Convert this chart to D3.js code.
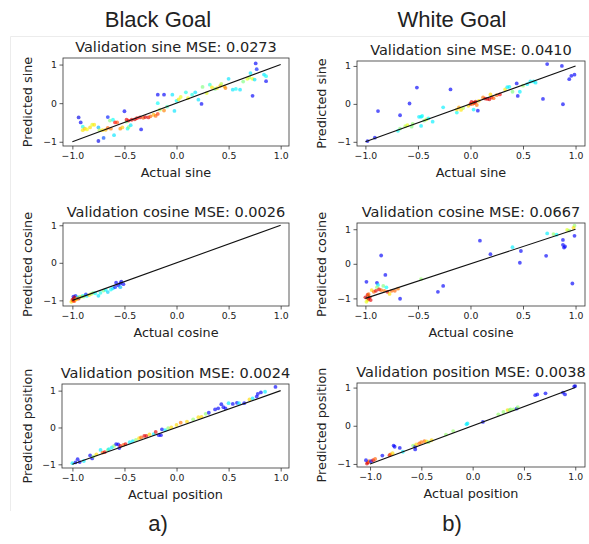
<!DOCTYPE html>
<html><head><meta charset="utf-8">
<script src="https://cdn.jsdelivr.net/npm/d3@7"></script>
<style>body{margin:0;background:#fff}svg{display:block}</style>
</head><body>
<svg id="fig" width="589" height="544"></svg>
<script>
// Each point: [actual, predicted, colour value for the jet map]
const blackSine = [
 [-0.94,-0.37,0.1],[-0.92,-0.50,0.12],[-0.90,-0.61,0.4],[-0.90,-0.70,0.65],[-0.88,-0.66,0.68],[-0.86,-0.68,0.62],
 [-0.83,-0.63,0.66],[-0.81,-0.56,0.6],[-0.79,-0.56,0.65],[-0.75,-0.98,0.1],[-0.70,-0.90,0.2],[-0.75,-0.63,0.3],
 [-0.74,-0.70,0.55],[-0.71,-0.70,0.65],[-0.68,-0.69,0.7],[-0.66,-0.64,0.78],[-0.63,-0.66,0.75],[-0.66,-0.36,0.15],
 [-0.64,-0.45,0.5],[-0.61,-0.43,0.38],[-0.60,-0.83,0.35],[-0.59,-0.50,0.88],[-0.57,-0.50,0.8],[-0.54,-0.66,0.75],
 [-0.52,-0.63,0.68],[-0.50,-0.21,0.12],[-0.48,-0.48,0.5],[-0.47,-0.66,0.38],[-0.46,-0.62,0.5],[-0.44,-0.57,0.35],
 [-0.48,-0.43,0.9],[-0.46,-0.45,0.88],[-0.43,-0.43,0.9],[-0.40,-0.42,0.92],[-0.38,-0.39,0.88],[-0.35,-0.37,0.9],
 [-0.34,-0.68,0.12],[-0.32,-0.38,0.8],[-0.30,-0.36,0.92],[-0.27,-0.37,0.9],[-0.25,-0.34,0.78],[-0.22,-0.30,0.7],
 [-0.20,-0.33,0.77],[-0.18,-0.28,0.82],[-0.16,-0.17,0.55],[-0.18,0.22,0.12],[-0.12,0.22,0.12],[-0.12,-0.19,0.75],
 [-0.18,0.0,0.38],[-0.09,-0.09,0.45],[-0.04,0.22,0.35],[-0.02,-0.20,0.35],[0.00,0.06,0.38],[0.02,0.10,0.65],
 [0.04,0.16,0.6],[0.09,0.28,0.4],[0.11,0.13,0.62],[0.15,0.22,0.4],[0.18,0.28,0.35],[0.21,0.09,0.35],
 [0.24,-0.02,0.12],[0.25,0.42,0.5],[0.29,0.26,0.6],[0.32,0.48,0.42],[0.34,0.41,0.65],[0.37,0.37,0.5],
 [0.39,0.39,0.65],[0.42,0.45,0.7],[0.43,0.50,0.55],[0.46,0.43,0.68],[0.47,0.39,0.75],[0.50,0.63,0.35],
 [0.54,0.35,0.35],[0.57,0.37,0.38],[0.61,0.35,0.35],[0.64,0.56,0.5],[0.68,0.63,0.6],[0.70,0.66,0.55],
 [0.73,0.63,0.62],[0.75,0.61,0.35],[0.71,0.78,0.35],[0.76,1.03,0.12],[0.77,0.88,0.15],[0.73,0.19,0.12],
 [0.84,0.74,0.35],[0.86,0.70,0.38],[0.86,0.57,0.12]
];
const whiteSine = [
 [-0.98,-0.98,0.12],[-0.91,-0.89,0.12],[-0.88,-0.19,0.12],[-0.69,-0.71,0.38],[-0.67,-0.65,0.5],[-0.67,-0.30,0.12],
 [-0.62,-0.59,0.55],[-0.60,-0.56,0.6],[-0.58,0.01,0.12],[-0.56,-0.60,0.5],[-0.55,-0.53,0.52],[-0.51,0.43,0.12],
 [-0.49,-0.34,0.36],[-0.47,-0.34,0.36],[-0.46,-0.32,0.38],[-0.47,-0.58,0.36],[-0.44,-0.44,0.5],[-0.42,-0.41,0.58],
 [-0.40,-0.38,0.38],[-0.36,-0.47,0.36],[-0.26,-0.09,0.36],[-0.19,0.38,0.12],[-0.13,-0.23,0.38],[-0.13,-0.15,0.66],
 [-0.11,-0.09,0.72],[-0.09,-0.16,0.65],[-0.07,-0.11,0.55],[-0.02,-0.05,0.66],[0.00,0.00,0.92],[0.01,0.05,0.9],
 [0.03,0.03,0.93],[0.04,0.03,0.9],[0.02,0.00,0.78],[0.05,0.06,0.92],[0.03,-0.15,0.36],[0.07,-0.18,0.12],
 [0.06,-0.03,0.76],[0.08,0.08,0.66],[0.12,0.17,0.76],[0.14,0.14,0.9],[0.16,0.13,0.9],[0.18,0.12,0.92],
 [0.20,0.17,0.88],[0.22,0.15,0.78],[0.19,0.25,0.66],[0.25,0.23,0.78],[0.28,0.25,0.88],[0.33,0.38,0.64],
 [0.35,0.44,0.36],[0.37,0.45,0.36],[0.40,0.32,0.5],[0.44,0.54,0.12],[0.45,0.21,0.12],[0.47,0.32,0.36],
 [0.50,0.48,0.52],[0.54,0.52,0.36],[0.57,0.59,0.36],[0.60,0.59,0.38],[0.62,0.56,0.36],[0.69,0.13,0.12],
 [0.73,1.05,0.12],[0.87,1.00,0.12],[0.88,-0.01,0.12],[0.94,0.65,0.12],[0.96,0.74,0.12],[0.99,0.77,0.12]
];
const blackCosine = [
 [-1.00,-0.99,0.9],[-0.99,-0.96,0.95],[-0.98,-1.02,0.78],[-0.97,-0.97,0.68],[-0.99,-0.90,0.12],[-0.97,-0.88,0.15],
 [-0.95,-0.92,0.35],[-0.94,-0.95,0.9],[-0.93,-0.91,0.5],[-0.91,-0.90,0.65],[-0.90,-0.88,0.38],[-0.89,-0.90,0.52],
 [-0.87,-0.84,0.15],[-0.86,-0.88,0.35],[-0.84,-0.86,0.65],[-0.82,-0.83,0.55],[-0.80,-0.80,0.5],[-0.78,-0.81,0.38],
 [-0.75,-0.88,0.35],[-0.73,-0.80,0.4],[-0.70,-0.74,0.5],[-0.68,-0.72,0.38],[-0.66,-0.78,0.33],[-0.63,-0.71,0.38],
 [-0.61,-0.68,0.35],[-0.59,-0.65,0.15],[-0.58,-0.53,0.12],[-0.56,-0.60,0.12],[-0.54,-0.55,0.12],[-0.53,-0.50,0.1],
 [-0.51,-0.57,0.12],[-0.54,-0.65,0.3],[-0.98,-0.92,0.92],[-0.96,-0.97,0.7],[-1.01,-1.04,0.66],[-0.99,-1.01,0.85]
];
const whiteCosine = [
 [-0.99,-0.52,0.12],[-0.85,0.24,0.12],[-0.81,-0.32,0.12],[-0.89,-0.55,0.12],[-0.88,-0.61,0.36],[-0.89,-0.68,0.52],
 [-0.83,-0.64,0.5],[-0.80,-0.68,0.38],[-0.94,-0.76,0.66],[-0.92,-0.81,0.78],[-0.90,-0.78,0.9],[-0.87,-0.74,0.9],
 [-0.85,-0.76,0.78],[-0.82,-0.78,0.76],[-0.79,-0.81,0.9],[-0.77,-0.87,0.66],[-0.75,-0.78,0.78],[-0.72,-0.78,0.78],
 [-0.69,-0.72,0.76],[-0.67,-1.01,0.12],[-0.97,-0.93,0.52],[-0.98,-1.05,0.66],[-1.00,-0.97,0.92],[-0.97,-1.01,0.92],
 [-0.96,-0.97,0.9],[-0.99,-1.10,0.6],[-0.98,-0.90,0.9],[-0.97,-0.88,0.78],[-0.95,-1.05,0.9],[-0.47,-0.44,0.52],
 [-0.31,-0.81,0.12],[-0.26,-0.64,0.12],[0.09,0.67,0.12],[0.19,0.28,0.12],[0.40,0.48,0.36],[0.48,0.37,0.12],
 [0.47,0.03,0.12],[0.72,0.23,0.12],[0.73,0.88,0.36],[0.79,0.86,0.52],[0.82,0.84,0.38],[0.88,0.69,0.12],
 [0.88,0.55,0.12],[0.90,0.50,0.12],[0.89,0.47,0.12],[0.92,0.98,0.6],[0.94,0.96,0.52],[0.99,1.10,0.52],
 [0.98,1.04,0.66],[0.99,0.81,0.12],[0.97,-0.57,0.12]
];
const blackPosition = [
 [-1.00,-0.97,0.36],[-0.97,-0.95,0.12],[-0.95,-0.86,0.12],[-0.93,-0.94,0.12],[-0.89,-0.91,0.36],[-0.83,-0.76,0.12],
 [-0.81,-0.84,0.12],[-0.80,-0.79,0.52],[-0.77,-0.73,0.66],[-0.73,-0.61,0.36],[-0.71,-0.68,0.78],[-0.69,-0.67,0.9],
 [-0.66,-0.61,0.52],[-0.65,-0.59,0.36],[-0.62,-0.54,0.36],[-0.60,-0.50,0.52],[-0.58,-0.45,0.12],[-0.56,-0.46,0.12],
 [-0.55,-0.56,0.12],[-0.54,-0.50,0.9],[-0.51,-0.47,0.78],[-0.49,-0.45,0.9],[-0.45,-0.40,0.36],[-0.42,-0.37,0.36],
 [-0.39,-0.34,0.52],[-0.36,-0.29,0.66],[-0.34,-0.27,0.78],[-0.31,-0.23,0.9],[-0.29,-0.23,0.9],[-0.26,-0.19,0.66],
 [-0.22,-0.18,0.36],[-0.20,-0.12,0.9],[-0.17,-0.21,0.12],[-0.15,-0.21,0.12],[-0.14,-0.05,0.12],[-0.11,-0.07,0.36],
 [-0.08,-0.02,0.52],[-0.05,0.00,0.66],[0.00,0.07,0.66],[0.04,0.13,0.76],[0.10,0.16,0.66],[0.16,0.22,0.52],
 [0.21,0.28,0.66],[0.24,0.29,0.66],[0.28,0.37,0.52],[0.31,0.40,0.12],[0.37,0.49,0.12],[0.40,0.52,0.12],
 [0.43,0.63,0.12],[0.45,0.55,0.12],[0.47,0.52,0.12],[0.50,0.66,0.36],[0.54,0.64,0.12],[0.58,0.67,0.12],
 [0.60,0.66,0.36],[0.65,0.66,0.12],[0.70,0.76,0.66],[0.73,0.79,0.36],[0.77,0.84,0.12],[0.78,0.91,0.12],
 [0.81,0.95,0.12],[0.85,0.97,0.36],[0.95,1.10,0.12]
];
const whitePosition = [
 [-1.03,-0.99,0.92],[-1.02,-0.96,0.9],[-1.01,-0.93,0.78],[-1.04,-0.90,0.12],[-0.99,-0.93,0.12],[-0.97,-0.90,0.9],
 [-0.95,-0.87,0.78],[-0.88,-0.78,0.12],[-0.81,-0.77,0.9],[-0.80,-0.75,0.78],[-0.78,-0.72,0.66],[-0.76,-0.55,0.12],
 [-0.77,-0.52,0.12],[-0.71,-0.58,0.12],[-0.68,-0.68,0.36],[-0.58,-0.52,0.52],[-0.56,-0.55,0.12],[-0.56,-0.62,0.12],
 [-0.55,-0.49,0.66],[-0.52,-0.46,0.78],[-0.50,-0.43,0.76],[-0.47,-0.40,0.78],[-0.45,-0.41,0.66],[-0.43,-0.43,0.52],
 [-0.40,-0.38,0.66],[-0.26,-0.23,0.52],[-0.19,-0.14,0.52],[-0.06,0.04,0.36],[-0.05,0.06,0.36],[0.10,0.10,0.12],
 [0.25,0.30,0.52],[0.30,0.36,0.52],[0.34,0.41,0.66],[0.36,0.41,0.52],[0.37,0.43,0.52],[0.40,0.43,0.52],
 [0.43,0.45,0.12],[0.44,0.49,0.52],[0.61,0.80,0.12],[0.63,0.82,0.12],[0.71,0.85,0.12],[0.88,0.87,0.12],
 [0.90,0.82,0.12],[0.99,1.03,0.12],[1.00,1.04,0.08]
];

const quantities = ["sine", "cosine", "position"];
const mseValues = [["0.0273", "0.0410"], ["0.0026", "0.0667"], ["0.0024", "0.0038"]];
const columnTitles = ["Black Goal", "White Goal"];
const panelTags = ["a)", "b)"];
const xTicks = [-1.0, -0.5, 0.0, 0.5, 1.0];
const yTicks = [-1, 0, 1];
const diagonal = [-1, 1];

const datasets = [[blackSine, whiteSine], [blackCosine, whiteCosine], [blackPosition, whitePosition]];

// Axes frames [left, top, right, bottom] and their data limits
const boxes = [
  [[63, 58, 289, 146], [357, 61, 585, 146]],
  [[63, 223, 289, 306], [357, 223, 585, 306]],
  [[62, 384, 289, 468], [357, 383, 585, 467]]
];
const xLims = [
  [[-1.09, 1.08], [-1.08, 1.09]],
  [[-1.09, 1.08], [-1.08, 1.09]],
  [[-1.10, 1.08], [-1.127, 1.095]]
];
const yLims = [
  [[-1.11, 1.17], [-1.11, 1.13]],
  [[-1.15, 1.06], [-1.22, 1.18]],
  [[-1.10, 1.18], [-1.08, 1.12]]
];

const clamp = v => Math.max(0, Math.min(1, v));
const jet = t => d3.rgb(
  255 * clamp(1.5 - Math.abs(4 * t - 3)),
  255 * clamp(1.5 - Math.abs(4 * t - 2)),
  255 * clamp(1.5 - Math.abs(4 * t - 1)));

const svg = d3.select("#fig");
const mplFont = "'DejaVu Sans', sans-serif";
const minus = s => s.replace("-", "\u2212");

// light frame around the figure area
svg.append("path")
  .attr("d", "M10.5,511 V36.5 H589")
  .attr("fill", "none").attr("stroke", "#ececec").attr("stroke-width", 1);

// column headers and tags
const colCenters = [158, 452];
columnTitles.forEach((t, i) => {
  svg.append("text").attr("x", colCenters[i]).attr("y", 27)
    .attr("text-anchor", "middle").attr("font-family", "'Liberation Sans', Arial, sans-serif")
    .attr("font-size", 22).attr("fill", "#222").text(t);
  svg.append("text").attr("x", colCenters[i]).attr("y", 531)
    .attr("text-anchor", "middle").attr("font-family", "'Liberation Sans', Arial, sans-serif")
    .attr("font-size", 22).attr("fill", "#222").text(panelTags[i]);
});

quantities.forEach((q, r) => {
  [0, 1].forEach(c => {
    const [x0, y0, x1, y1] = boxes[r][c];
    const xs = d3.scaleLinear().domain(xLims[r][c]).range([x0, x1]);
    const ys = d3.scaleLinear().domain(yLims[r][c]).range([y1, y0]);
    const g = svg.append("g");

    g.append("defs").append("clipPath").attr("id", `clip${r}${c}`)
      .append("rect").attr("x", x0).attr("y", y0).attr("width", x1 - x0).attr("height", y1 - y0);

    const pts = g.append("g").attr("clip-path", `url(#clip${r}${c})`);
    pts.selectAll("circle").data(datasets[r][c]).join("circle")
      .attr("cx", d => xs(d[0])).attr("cy", d => ys(d[1])).attr("r", 1.9)
      .attr("fill", d => jet(d[2])).attr("fill-opacity", 0.65);

    pts.append("line")
      .attr("x1", xs(diagonal[0])).attr("y1", ys(diagonal[0]))
      .attr("x2", xs(diagonal[1])).attr("y2", ys(diagonal[1]))
      .attr("stroke", "#111").attr("stroke-width", 1.1);

    const xAxis = g.append("g").attr("transform", `translate(0,${y1})`)
      .call(d3.axisBottom(xs).tickValues(xTicks).tickSize(3.5).tickPadding(2.5)
        .tickFormat(d => minus(d3.format(".1f")(d))));
    const yAxis = g.append("g").attr("transform", `translate(${x0},0)`)
      .call(d3.axisLeft(ys).tickValues(yTicks).tickSize(3.5).tickPadding(2.5)
        .tickFormat(d => minus(String(d))));
    [xAxis, yAxis].forEach(a => {
      a.select(".domain").remove();
      a.selectAll("line").attr("stroke", "#333").attr("stroke-width", 0.8);
      a.selectAll("text").attr("font-family", mplFont).attr("font-size", 9.3).attr("fill", "#222");
    });

    g.append("rect").attr("x", x0).attr("y", y0).attr("width", x1 - x0).attr("height", y1 - y0)
      .attr("fill", "none").attr("stroke", "#333").attr("stroke-width", 0.8);

    g.append("text").attr("x", (x0 + x1) / 2).attr("y", y0 - 6)
      .attr("text-anchor", "middle").attr("font-family", mplFont).attr("font-size", 14.5)
      .attr("fill", "#222").text(`Validation ${q} MSE: ${mseValues[r][c]}`);

    g.append("text").attr("x", (x0 + x1) / 2).attr("y", y1 + 31)
      .attr("text-anchor", "middle").attr("font-family", mplFont).attr("font-size", 12.8)
      .attr("fill", "#222").text(`Actual ${q}`);

    const ylx = c === 0 ? 27 : 321;
    g.append("text").attr("transform", `translate(${ylx + 4.5},${(y0 + y1) / 2}) rotate(-90)`)
      .attr("text-anchor", "middle").attr("font-family", mplFont).attr("font-size", 12.8)
      .attr("fill", "#222").text(`Predicted ${q}`);
  });
});
</script>
</body></html>
